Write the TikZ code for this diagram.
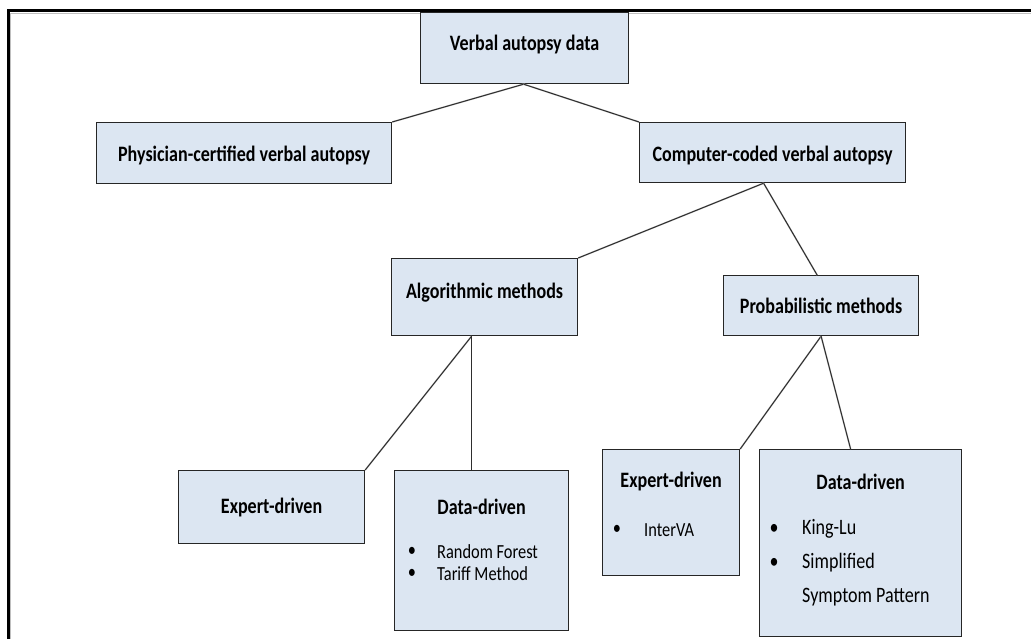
\documentclass[tikz,border=0pt]{standalone}
\usepackage{fontspec}
\setmainfont{Carlito}[FakeStretch=0.82]
\usetikzlibrary{calc}
\definecolor{boxfill}{HTML}{DCE6F2}
\definecolor{boxline}{HTML}{262626}
\definecolor{conn}{HTML}{2E2E2E}
\tikzset{
  box/.style={draw=boxline, line width=1.2pt, fill=boxfill, rectangle, inner sep=0pt},
  ttl/.style={font=\fontsize{22}{26}\selectfont\bfseries, inner sep=0pt},
  itm/.style={font=\fontsize{20}{24}\selectfont, inner sep=0pt, anchor=west},
  itmbig/.style={font=\fontsize{22}{26}\selectfont, inner sep=0pt, anchor=west},
  conn/.style={draw=conn, line width=1pt},
  shad/.style={draw=gray!45, line width=1.6pt, shift={(1.2,1.2)}},
  frame/.style={draw=black, line width=3pt}
}
\newcommand{\link}[2]{\draw[shad] (#1) -- (#2); \draw[conn] (#1) -- (#2);}
\begin{document}
\begin{tikzpicture}[x=1pt,y=-1pt]
\useasboundingbox (0,0) rectangle (1031,639);
\fill[white] (0,0) rectangle (1031,639);
% frame
\draw[draw=gray!50, line width=1.5pt] (10.5,639) -- (10.5,13.5) -- (1031,13.5);
\draw[frame] (8,639) -- (8,11) -- (1031,11);

% boxes
\node[box, minimum width=208, minimum height=71, anchor=north west] (va) at (420,12) {};
\node[ttl] at (va.center) [yshift=4] {Verbal autopsy data};
\node[box, minimum width=295, minimum height=61, anchor=north west] (pc) at (96,122) {};
\node[ttl] at (pc.center) [yshift=-2] {Physician-certified verbal autopsy};
\node[box, minimum width=266, minimum height=60, anchor=north west] (cc) at (639,122) {};
\node[ttl] at (cc.center) [yshift=-3] {Computer-coded verbal autopsy};
\node[box, minimum width=186, minimum height=77, anchor=north west] (al) at (391,258) {};
\node[ttl] at (al.center) [yshift=4] {Algorithmic methods};
\node[box, minimum width=195, minimum height=60, anchor=north west] (pm) at (723,275) {};
\node[ttl] at (pm.center) {Probabilistic methods};

\node[box, minimum width=186, minimum height=73, anchor=north west] (el) at (178,470) {};
\node[ttl] at (el.center) {Expert-driven};
\node[box, minimum width=174, minimum height=160, anchor=north west] (dl) at (394,470) {};
\node[ttl] at ($(dl.north)+(0,37)$) {Data-driven};
\node[itm] (dl1) at (437,552) {Random Forest};
\node[itm] (dl2) at (437,574) {Tariff Method};
\node[itm, anchor=center] at (412,552) {\textbullet};
\node[itm, anchor=center] at (412,574) {\textbullet};

\node[box, minimum width=137, minimum height=126, anchor=north west] (er) at (602,449) {};
\node[ttl] at ($(er.north)+(0,33)$) {Expert-driven};
\node[itm] (er1) at (644,530) {InterVA};
\node[itm, anchor=center] at (617,530) {\textbullet};
\node[box, minimum width=202, minimum height=187, anchor=north west] (dr) at (759,449) {};
\node[ttl] at ($(dr.north)+(0,33)$) {Data-driven};
\node[itmbig] (dr1) at (802,529) {King-Lu};
\node[itmbig] (dr2) at (802,563) {Simplified};
\node[itmbig] (dr3) at (802,597) {Symptom Pattern};
\node[itmbig, anchor=center] at (774,529) {\textbullet};
\node[itmbig, anchor=center] at (774,563) {\textbullet};

% connector end points
\coordinate (vaS) at ($(va.south)+(-1,0)$);
\coordinate (ccS) at ($(cc.south)+(-9,0)$);
\coordinate (alS) at ($(al.south)+(-13,0)$);
\coordinate (dlN) at (alS |- dl.north);
\coordinate (pmS) at (pm.south);
\coordinate (pmN) at ($(pm.north)+(-4,0)$);
\coordinate (drN) at ($(dr.north)+(-10,0)$);

\link{vaS}{pc.north east}
\link{vaS}{cc.north west}
\link{ccS}{al.north east}
\link{ccS}{pmN}
\link{alS}{el.north east}
\link{alS}{dlN}
\link{pmS}{er.north east}
\link{pmS}{drN}
\end{tikzpicture}
\end{document}
